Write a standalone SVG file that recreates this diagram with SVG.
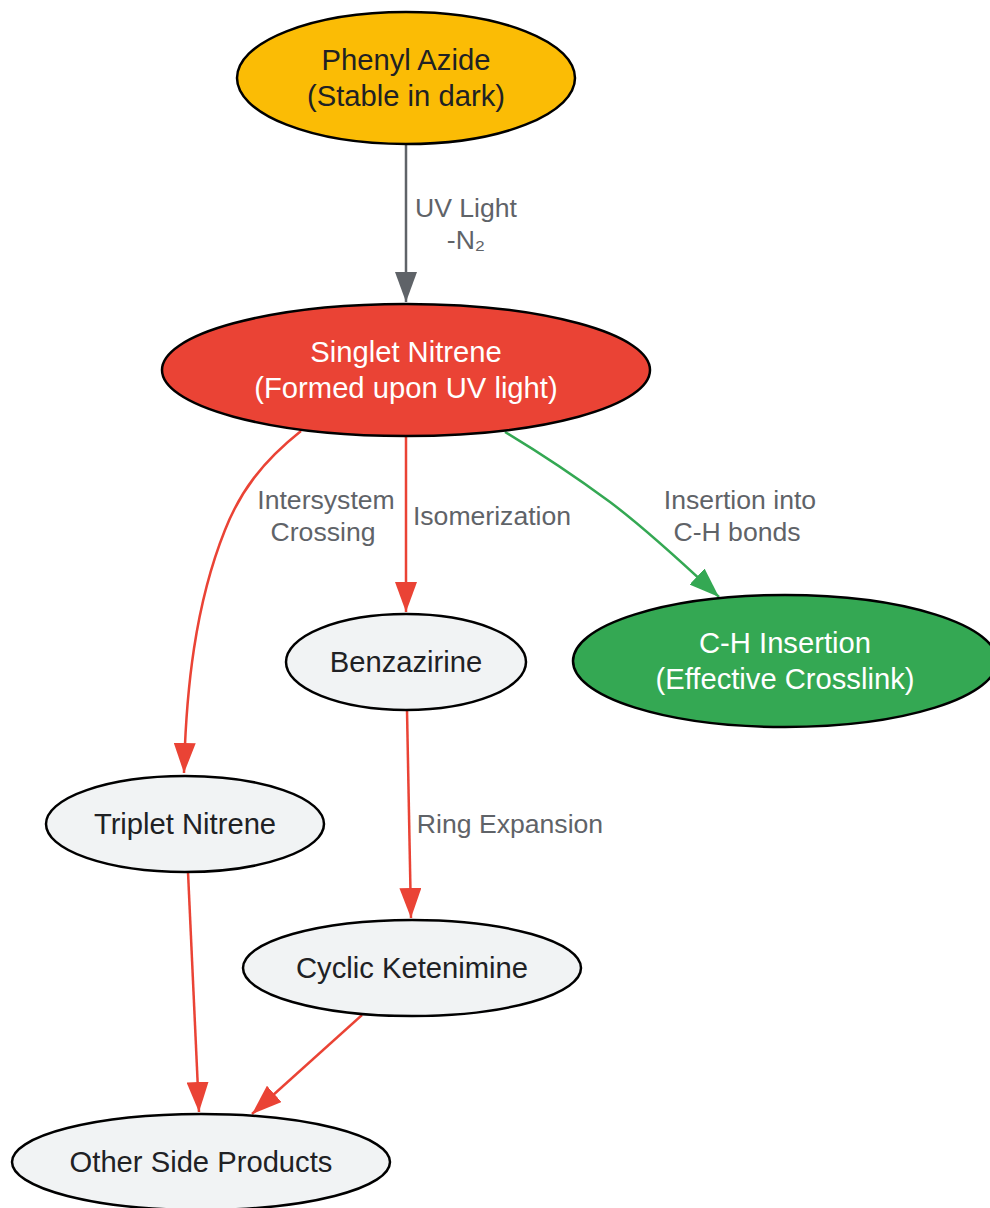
<svg xmlns="http://www.w3.org/2000/svg" width="990" height="1208" viewBox="0 0 990 1208">
<style>
.node ellipse{stroke:#000;stroke-width:2.5}
.nt{font-family:"Liberation Sans",Arial,sans-serif;font-size:29.2px;text-anchor:middle;fill:#202124}
.wt{fill:#ffffff}
.lbl{font-family:"Liberation Sans",Arial,sans-serif;font-size:26.6px;text-anchor:middle;fill:#5f6368}
.e{fill:none;stroke-width:2.5}
.red{stroke:#EA4335}
.grn{stroke:#34A853}
.gry{stroke:#5f6368}
</style>
<defs>
<marker id="ar" viewBox="0 0 30 22" refX="30" refY="11" markerWidth="30" markerHeight="22" markerUnits="userSpaceOnUse" orient="auto"><path d="M0,0 L30,11 L0,22 z" fill="#EA4335"/></marker>
<marker id="ag" viewBox="0 0 30 22" refX="30" refY="11" markerWidth="30" markerHeight="22" markerUnits="userSpaceOnUse" orient="auto"><path d="M0,0 L30,11 L0,22 z" fill="#34A853"/></marker>
<marker id="ay" viewBox="0 0 30 22" refX="30" refY="11" markerWidth="30" markerHeight="22" markerUnits="userSpaceOnUse" orient="auto"><path d="M0,0 L30,11 L0,22 z" fill="#5f6368"/></marker>
</defs>
<g id="edges">
<path class="e gry" d="M406,144 L406,302" marker-end="url(#ay)"/>
<path class="e red" d="M301,431 C262,462 240,492 225,530 C195,605 186,690 184,773" marker-end="url(#ar)"/>
<path class="e red" d="M406,436 L406,612" marker-end="url(#ar)"/>
<path class="e grn" d="M505,432 C545,456 580,480 610,502 C650,532 690,570 719,597" marker-end="url(#ag)"/>
<path class="e red" d="M407,710 L411,918" marker-end="url(#ar)"/>
<path class="e red" d="M188,872 L199,1112" marker-end="url(#ar)"/>
<path class="e red" d="M362,1015 L252,1114" marker-end="url(#ar)"/>
<text class="lbl" x="466" y="217">UV Light</text>
<text class="lbl" x="466" y="249">-N₂</text>
<text class="lbl" x="326" y="509">Intersystem</text>
<text class="lbl" x="323" y="541">Crossing</text>
<text class="lbl" x="492" y="525">Isomerization</text>
<text class="lbl" x="740" y="509">Insertion into</text>
<text class="lbl" x="737" y="541">C-H bonds</text>
<text class="lbl" x="510" y="833">Ring Expansion</text>
</g>
<g id="phenyl_azide" class="node">
<ellipse cx="406" cy="78" rx="169" ry="66" fill="#FBBC05"/>
<text class="nt" x="406" y="70">Phenyl Azide</text>
<text class="nt" x="406" y="106">(Stable in dark)</text>
</g>
<g id="singlet_nitrene" class="node">
<ellipse cx="406" cy="370" rx="244" ry="66" fill="#EA4335"/>
<text class="nt wt" x="406" y="362">Singlet Nitrene</text>
<text class="nt wt" x="406" y="398">(Formed upon UV light)</text>
</g>
<g id="benzazirine" class="node">
<ellipse cx="406" cy="662" rx="120" ry="48" fill="#F1F3F4"/>
<text class="nt" x="406" y="672">Benzazirine</text>
</g>
<g id="ch_insertion" class="node">
<ellipse cx="785" cy="661" rx="212" ry="66" fill="#34A853"/>
<text class="nt wt" x="785" y="653">C-H Insertion</text>
<text class="nt wt" x="785" y="689">(Effective Crosslink)</text>
</g>
<g id="triplet_nitrene" class="node">
<ellipse cx="185" cy="824" rx="139" ry="48" fill="#F1F3F4"/>
<text class="nt" x="185" y="834">Triplet Nitrene</text>
</g>
<g id="cyclic_ketenimine" class="node">
<ellipse cx="412" cy="968" rx="169" ry="48" fill="#F1F3F4"/>
<text class="nt" x="412" y="978">Cyclic Ketenimine</text>
</g>
<g id="other_side_products" class="node">
<ellipse cx="201" cy="1162" rx="189" ry="48" fill="#F1F3F4"/>
<text class="nt" x="201" y="1172">Other Side Products</text>
</g>
</svg>
